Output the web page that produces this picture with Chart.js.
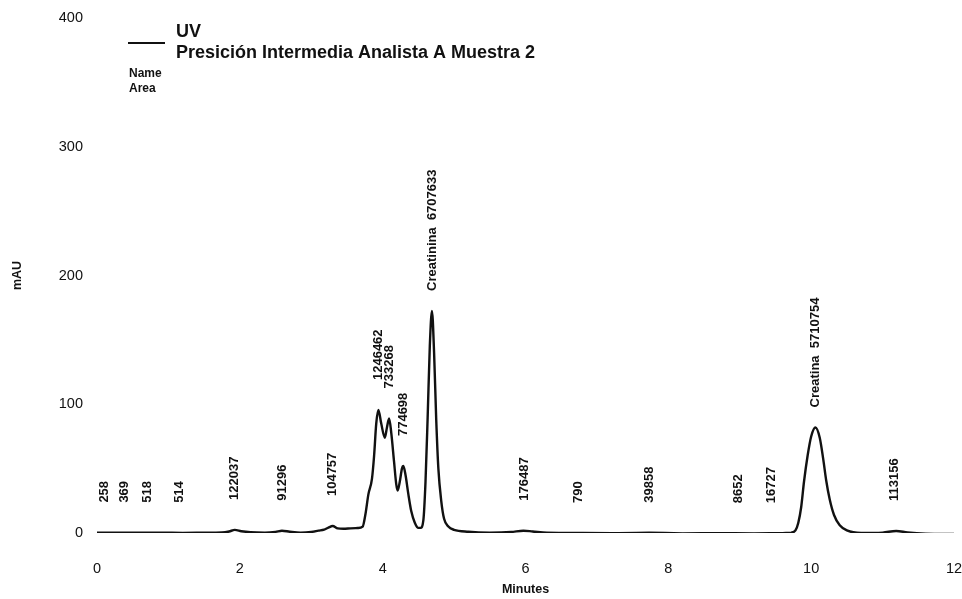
<!DOCTYPE html>
<html>
<head>
<meta charset="utf-8">
<script src="https://cdn.jsdelivr.net/npm/chart.js@4/dist/chart.umd.min.js"></script>
<style>
  html, body { margin: 0; padding: 0; background: #ffffff; }
  #wrap { width: 962px; height: 599px; position: relative; }
</style>
</head>
<body>
<div id="wrap"><canvas id="chrom" width="962" height="599"></canvas></div>
<script>
// UV trace: retention time (min) and absorbance (mAU)
const traceTimes = [
  0.00, 0.30, 0.60, 0.90, 1.20, 1.50, 1.75, 1.85, 1.93, 2.02, 2.15, 2.35, 2.50, 2.59, 2.70, 2.85,
  3.00, 3.10, 3.18, 3.24, 3.30, 3.37, 3.45, 3.55, 3.65, 3.72, 3.76, 3.80, 3.85, 3.88, 3.91, 3.94,
  3.98, 4.03, 4.06, 4.09, 4.12, 4.16, 4.19, 4.21, 4.24, 4.27, 4.29, 4.32, 4.36, 4.40, 4.45, 4.50,
  4.53, 4.57, 4.60, 4.63, 4.66, 4.69, 4.72, 4.75, 4.78, 4.82, 4.86, 4.92, 5.00, 5.20, 5.50, 5.80,
  5.97, 6.10, 6.30, 6.80, 7.30, 7.73, 8.20, 8.70, 9.20, 9.60, 9.72, 9.78, 9.82, 9.86, 9.90, 9.95,
  10.00, 10.06, 10.12, 10.17, 10.21, 10.26, 10.32, 10.40, 10.50, 10.70, 11.00, 11.19, 11.35, 11.60, 12.00
];
const traceMAU = [
  0.3, 0.3, 0.2, 0.2, 0.1, 0.2, 0.4, 1.2, 2.4, 1.4, 0.6, 0.3, 0.9, 1.8, 1.0, 0.3,
  0.8, 1.8, 2.6, 4.2, 5.4, 3.6, 3.3, 3.6, 3.9, 5.0, 15, 30, 42, 60, 85, 95.5,
  85, 74, 82, 89, 78, 55, 38, 33, 40, 50, 52, 45, 30, 17, 8, 4,
  4, 10, 40, 90, 145, 172.5, 140, 88, 50, 25, 11, 5, 2.5, 1, 0.3, 0.8,
  1.8, 1.2, 0.2, 0, -0.2, 0.2, -0.3, -0.2, -0.3, -0.2, 0.3, 2, 8, 20, 40, 60,
  75, 82, 74, 57, 41, 26, 14, 6, 2, 0, 0.3, 1.6, 0.4, -0.5, -0.7
];

// Integrated peaks: apex time, apex height, name, area
const peakTimes   = [0.10, 0.39, 0.70, 1.16, 1.93, 2.60, 3.29, 3.94, 4.10, 4.29, 4.69, 5.99, 6.74, 7.73, 8.98, 9.45, 10.06, 11.17];
const peakHeights = [0.3, 0.3, 0.2, 0.1, 2.4, 1.8, 5.4, 95.5, 89, 52, 172.5, 1.8, 0, 0.2, -0.2, -0.2, 82, 1.6];
const peakNames   = ["", "", "", "", "", "", "", "", "", "", "Creatinina", "", "", "", "", "", "Creatina", ""];
const peakAreas   = ["258", "369", "518", "514", "122037", "91296", "104757", "1246462", "733268", "774698", "6707633", "176487", "790", "39858", "8652", "16727", "5710754", "113156"];

// Axis ticks
const xTicks = [0, 2, 4, 6, 8, 10, 12];
const yTicks = [0, 100, 200, 300, 400];

const legendTitle = "UV";
const legendSubtitle = "Presición Intermedia Analista A Muestra 2";
const legendRows = ["Name", "Area"];

const FONT = "'Liberation Sans', Arial, Helvetica, sans-serif";
const INK = "#111111";

const points = traceTimes.map((t, i) => ({ x: t, y: traceMAU[i] }));

// Vertical peak annotations: "name  area" standing above each apex
const peakLabelPlugin = {
  id: 'peakLabels',
  afterDatasetsDraw(chart) {
    const { ctx, scales: { x, y } } = chart;
    ctx.save();
    ctx.fillStyle = INK;
    ctx.font = "bold 13px " + FONT;
    ctx.textAlign = 'left';
    ctx.textBaseline = 'middle';
    peakTimes.forEach((t, i) => {
      const named = peakNames[i] !== "";
      const text = named ? peakNames[i] + "  " + peakAreas[i] : peakAreas[i];
      const px = x.getPixelForValue(t);
      const py = y.getPixelForValue(peakHeights[i]) - (named ? 20 : 30);
      ctx.save();
      ctx.translate(px, py);
      ctx.rotate(-Math.PI / 2);
      ctx.fillText(text, 0, 0);
      ctx.restore();
    });
    ctx.restore();
  }
};

// Trace legend block in the upper left
const legendPlugin = {
  id: 'traceLegend',
  afterDraw(chart) {
    const { ctx } = chart;
    ctx.save();
    ctx.strokeStyle = INK;
    ctx.lineWidth = 2;
    ctx.beginPath();
    ctx.moveTo(128, 43);
    ctx.lineTo(165, 43);
    ctx.stroke();
    ctx.fillStyle = INK;
    ctx.textAlign = 'left';
    ctx.textBaseline = 'alphabetic';
    ctx.font = "bold 18px " + FONT;
    ctx.fillText(legendTitle, 176, 37);
    ctx.fillText(legendSubtitle, 176, 58);
    ctx.font = "bold 12px " + FONT;
    ctx.fillText(legendRows[0], 129, 77);
    ctx.fillText(legendRows[1], 129, 92);
    ctx.restore();
  }
};

new Chart(document.getElementById('chrom'), {
  type: 'line',
  data: {
    datasets: [{
      label: legendTitle,
      data: points,
      borderColor: INK,
      borderWidth: 2.4,
      pointRadius: 0,
      fill: false,
      cubicInterpolationMode: 'monotone'
    }]
  },
  options: {
    responsive: false,
    animation: false,
    devicePixelRatio: 1,
    layout: { padding: { top: 18, right: 8, bottom: 0, left: 0 } },
    plugins: {
      legend: { display: false },
      tooltip: { enabled: false }
    },
    scales: {
      x: {
        type: 'linear',
        min: 0,
        max: 12,
        border: { display: false },
        grid: { display: false, drawTicks: false },
        afterBuildTicks(scale) { scale.ticks = xTicks.map(v => ({ value: v })); },
        afterFit(scale) {
          scale.height = 599 - 533;
          scale.paddingLeft = 0;
          scale.paddingRight = 0;
        },
        ticks: {
          padding: 27,
          color: INK,
          maxRotation: 0,
          font: { family: FONT, size: 14.5 }
        },
        title: {
          display: true,
          text: 'Minutes',
          color: INK,
          font: { family: FONT, size: 12.5, weight: 'bold' },
          padding: { top: 0, bottom: 1.5 }
        }
      },
      y: {
        min: 0,
        max: 400,
        border: { display: false },
        grid: { display: false, drawTicks: false },
        afterBuildTicks(scale) { scale.ticks = yTicks.map(v => ({ value: v })); },
        afterFit(scale) {
          scale.width = 97;
          scale.paddingTop = 0;
          scale.paddingBottom = 0;
        },
        ticks: {
          padding: 14,
          color: INK,
          font: { family: FONT, size: 14.5 }
        },
        title: {
          display: true,
          text: 'mAU',
          color: INK,
          font: { family: FONT, size: 12.5, weight: 'bold' },
          padding: { top: 10, bottom: 0 }
        }
      }
    }
  },
  plugins: [peakLabelPlugin, legendPlugin]
});
</script>
</body>
</html>
